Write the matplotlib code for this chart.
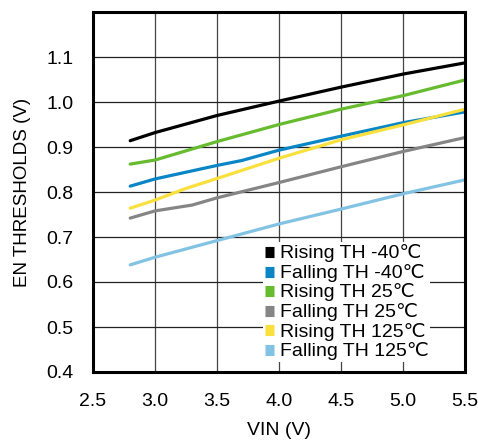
import numpy as np
import matplotlib.pyplot as plt

plt.rcParams['font.family'] = ['Liberation Sans', 'DejaVu Sans']

vin = [2.8, 3.0, 3.5, 4.0, 4.5, 5.0, 5.5]

rising_m40 = [0.914, 0.932, 0.970, 1.002, 1.033, 1.062, 1.087]
rising_25 = [0.862, 0.871, 0.912, 0.950, 0.984, 1.014, 1.049]
falling_125 = [0.638, 0.655, 0.692, 0.729, 0.762, 0.796, 0.827]

# a few extra points where the curves bend
vin_fm40 = [2.8, 3.0, 3.5, 3.7, 4.0, 4.5, 5.0, 5.5]
falling_m40 = [0.813, 0.829, 0.859, 0.870, 0.893, 0.924, 0.954, 0.978]
vin_f25 = [2.8, 3.0, 3.3, 3.5, 4.0, 4.5, 5.0, 5.5]
falling_25 = [0.742, 0.758, 0.771, 0.787, 0.821, 0.856, 0.890, 0.921]
vin_r125 = [2.8, 3.0, 3.25, 3.5, 4.0, 4.5, 5.0, 5.5]
rising_125 = [0.764, 0.782, 0.808, 0.830, 0.875, 0.916, 0.949, 0.984]

series = [
    ("Rising TH -40℃", vin, rising_m40, "#000000"),
    ("Falling TH -40℃", vin_fm40, falling_m40, "#0a86c6"),
    ("Rising TH 25℃", vin, rising_25, "#66bb2e"),
    ("Falling TH 25℃", vin_f25, falling_25, "#858585"),
    ("Rising TH 125℃", vin_r125, rising_125, "#f9e03c"),
    ("Falling TH 125℃", vin, falling_125, "#82c3e4"),
]

fig = plt.figure(figsize=(4.78, 4.43), dpi=100)
ax = fig.add_axes([93/478, 1 - 372/443, 372/478, 360/443])

for label, x, y, c in series:
    ax.plot(x, y, color=c, lw=2.3, label=label, solid_capstyle="round")

ax.set_xlim(2.5, 5.5)
ax.set_ylim(0.4, 1.2)
ax.set_xticks(np.arange(2.5, 5.51, 0.5))
ax.set_yticks(np.arange(0.4, 1.11, 0.1))
ax.set_xticklabels(["2.5", "3.0", "3.5", "4.0", "4.5", "5.0", "5.5"])
ax.set_yticklabels(["0.4", "0.5", "0.6", "0.7", "0.8", "0.9", "1.0", "1.1"])

for xv in np.arange(3.0, 5.01, 0.5):
    ax.axvline(xv, color="#444444", lw=0.9, zorder=0)
for yv in np.arange(0.5, 1.11, 0.1):
    ax.axhline(yv, color="#222222", lw=0.9, zorder=0)

ax.tick_params(length=0, labelsize=14)
ax.tick_params(axis="x", pad=15)
ax.tick_params(axis="y", pad=14)
for s in ax.spines.values():
    s.set_linewidth(2.2)

ax.set_xlabel("VIN (V)", fontsize=14, labelpad=9)
ax.set_ylabel("EN THRESHOLDS (V)", fontsize=13.5, labelpad=11)

leg = ax.legend(loc="upper left", bbox_to_anchor=(0.457, 0.36), fontsize=14,
                frameon=True, fancybox=False, edgecolor="none",
                handlelength=0.45, handleheight=0.45, handletextpad=0.3,
                labelspacing=0.08, borderpad=0.1, borderaxespad=0)
leg.get_frame().set_alpha(1)
for h in leg.legend_handles:
    h.set_linewidth(8)
    h.set_solid_capstyle("butt")

fig.savefig("out.png", dpi=100)
